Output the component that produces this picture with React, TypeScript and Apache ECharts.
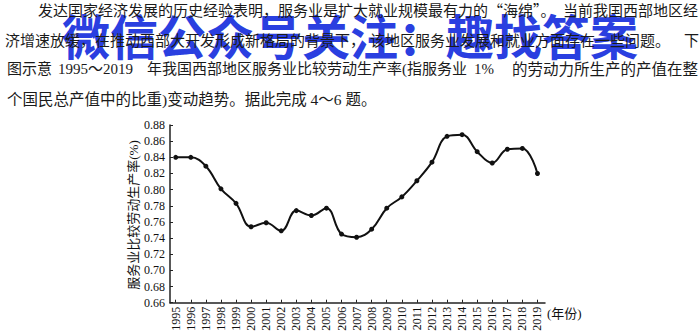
import React, { useEffect, useRef } from "react";
import * as echarts from "echarts";

const years = [1995, 1996, 1997, 1998, 1999, 2000, 2001, 2002, 2003, 2004, 2005, 2006, 2007, 2008, 2009, 2010, 2011, 2012, 2013, 2014, 2015, 2016, 2017, 2018, 2019];
const productivity = [0.84, 0.84, 0.829, 0.801, 0.783, 0.754, 0.759, 0.749, 0.774, 0.768, 0.777, 0.745, 0.741, 0.751, 0.777, 0.791, 0.811, 0.834, 0.866, 0.868, 0.847, 0.833, 0.85, 0.851, 0.82];
const yTicks = { min: 0.66, max: 0.88, interval: 0.02 };
const yAxisTitle = "服务业比较劳动生产率(%)";
const xAxisTitle = "(年份)";
const watermark = "微信公众号关注：趣找答案";

const CJK = '"Noto Sans CJK SC", sans-serif';
const MIX = '"Liberation Serif", "Noto Sans CJK SC", serif';

export default function App() {
  const ref = useRef<HTMLDivElement>(null);
  useEffect(() => {
    if (!ref.current) return;
    const chart = echarts.init(ref.current, null, { renderer: "svg" });
    const txt = (text: string, x: number, y: number, extra: any = {}) => ({
      type: "text",
      x,
      y,
      z: 10,
      style: {
        text,
        fill: "#1a1a1a",
        font: `15px ${MIX}`,
        verticalAlign: "middle",
        align: "left",
        ...extra,
      },
    });
    chart.setOption({
      animation: false,
      backgroundColor: "#ffffff",
      grid: { left: 170, right: 155, top: 125, bottom: 33.3, containLabel: false },
      xAxis: {
        type: "value",
        min: 1994.62,
        max: 2019.5,
        splitLine: { show: false },
        axisLine: { lineStyle: { color: "#222", width: 1.5 } },
        axisTick: { inside: true, length: 3, customValues: years, lineStyle: { color: "#222" } },
        axisLabel: {
          customValues: years,
          rotate: 90,
          margin: 4,
          color: "#111",
          fontSize: 12,
          fontFamily: "Liberation Serif",
          formatter: (v: number) => String(v),
        },
      },
      yAxis: {
        type: "value",
        min: yTicks.min,
        max: yTicks.max,
        interval: yTicks.interval,
        splitLine: { show: false },
        axisLine: { show: true, lineStyle: { color: "#222", width: 1.5 } },
        axisTick: { show: true, inside: true, length: 3, lineStyle: { color: "#222" } },
        axisLabel: {
          margin: 5,
          color: "#111",
          fontSize: 12,
          fontFamily: "Liberation Serif",
          formatter: (v: number) => v.toFixed(2),
        },
      },
      series: [
        {
          type: "line",
          smooth: 0.4,
          symbol: "circle",
          symbolSize: 5,
          data: years.map((y, i) => [y, productivity[i]]),
          lineStyle: { color: "#111", width: 2 },
          itemStyle: { color: "#111" },
        },
      ],
      graphic: [
        {
          type: "text",
          x: 62,
          y: 34,
          z: 1,
          style: {
            text: watermark,
            fill: "#2a3fe0",
            font: `bold 48px ${CJK}`,
            verticalAlign: "middle",
            align: "left",
          },
        },
        txt("发达国家经济发展的历史经验表明，服务业是扩大就业规模最有力的“海绵”。", 38, 9, { font: `15px ${CJK}` }),
        txt("当前我国西部地区经", 698, 9, { font: `15px ${CJK}`, align: "right" }),
        txt("济增速放缓，在推动西部大开发形成新格局的背景下，", 5, 39, { font: `15px ${CJK}` }),
        txt("该地区服务业发展和就业方面存在一些问题。", 370, 39, { font: `15px ${CJK}` }),
        txt("下", 699, 39, { font: `15px ${CJK}`, align: "right" }),
        txt("图示意", 7, 69),
        txt("1995～2019", 58, 69),
        txt("年我国西部地区服务业比较劳动生产率(指服务业", 147, 69),
        txt("1%", 474, 69),
        txt("的劳动力所生产的产值在整", 698, 69, { align: "right", font: `15.5px ${MIX}` }),
        txt("个国民总产值中的比重)变动趋势。据此完成 4～6 题。", 7, 99, { font: `15.5px ${MIX}` }),
        {
          type: "text",
          x: 133,
          y: 215,
          rotation: Math.PI / 2,
          z: 10,
          style: {
            text: yAxisTitle,
            fill: "#111",
            font: `13px ${MIX}`,
            align: "center",
            verticalAlign: "middle",
          },
        },
        txt(xAxisTitle, 547, 313, { font: `13px ${MIX}`, fill: "#111" }),
      ],
    });
    return () => chart.dispose();
  }, []);
  return (
    <div
      ref={ref}
      style={{ position: "fixed", left: 0, top: 0, width: 700, height: 336 }}
    />
  );
}
